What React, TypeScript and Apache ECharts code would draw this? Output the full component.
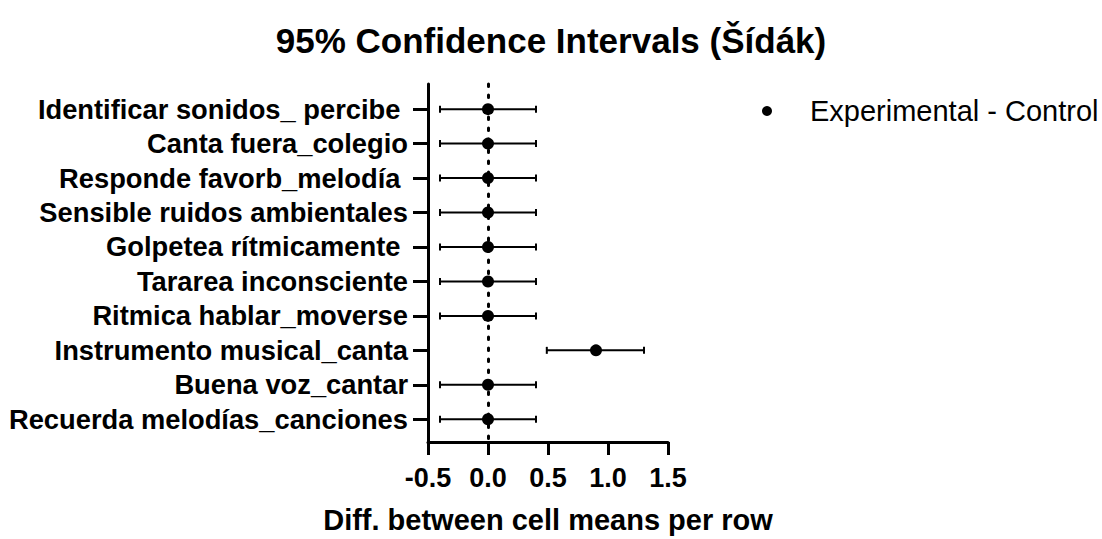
import React, { useEffect, useRef } from "react";
import * as echarts from "echarts";

const categories = [
  "Identificar sonidos_ percibe ",
  "Canta fuera_colegio",
  "Responde favorb_melodía ",
  "Sensible ruidos ambientales",
  "Golpetea rítmicamente ",
  "Tararea inconsciente",
  "Ritmica hablar_moverse",
  "Instrumento musical_canta",
  "Buena voz_cantar",
  "Recuerda melodías_canciones",
];
const diffs = [0, 0, 0, 0, 0, 0, 0, 0.9, 0, 0];
const lower = [-0.4, -0.4, -0.4, -0.4, -0.4, -0.4, -0.4, 0.49, -0.4, -0.4];
const upper = [0.4, 0.4, 0.4, 0.4, 0.4, 0.4, 0.4, 1.3, 0.4, 0.4];
const xTicks = [-0.5, 0, 0.5, 1.0, 1.5];
const seriesName = "Experimental - Control";
const titleText = "95% Confidence Intervals (Šídák)";
const xAxisName = "Diff. between cell means per row";

const FONT = "'Liberation Sans', Arial, Helvetica, sans-serif";

export default function App() {
  const ref = useRef<HTMLDivElement>(null);
  useEffect(() => {
    if (!ref.current) return;
    const chart = echarts.init(ref.current, undefined, { renderer: "svg" });
    const rowIdx = categories.map((_, i) => i);
    const barData = rowIdx.map((i) => [lower[i], upper[i], i]);
    const pointData = rowIdx.map((i) => [diffs[i], i]);
    chart.setOption({
      animation: false,
      backgroundColor: "#ffffff",
      textStyle: { fontFamily: FONT },
      title: {
        text: titleText,
        left: "center",
        top: 18,
        textStyle: { fontFamily: FONT, fontSize: 35, fontWeight: "bold", color: "#000" },
      },
      legend: {
        data: [{ name: seriesName, icon: "circle" }],
        left: 762,
        top: 96.5,
        padding: 0,
        itemWidth: 10,
        itemHeight: 10,
        itemStyle: { color: "#000", opacity: 1 },
        textStyle: { fontFamily: FONT, fontSize: 29, color: "#000", padding: [0, 0, 0, 33] },
      },
      grid: { left: 428, right: 434, top: 84, bottom: 95.5, containLabel: false },
      xAxis: {
        type: "value",
        min: -0.5,
        max: 1.5,
        interval: 0.5,
        name: xAxisName,
        nameLocation: "middle",
        nameGap: 63,
        nameTextStyle: { fontFamily: FONT, fontSize: 29, fontWeight: "bold", color: "#000" },
        axisLine: { show: true, onZero: false, lineStyle: { color: "#000", width: 3 } },
        axisTick: { show: true, inside: false, length: 13, lineStyle: { color: "#000", width: 3 } },
        axisLabel: {
          margin: 22,
          fontFamily: FONT,
          fontSize: 27,
          fontWeight: "bold",
          color: "#000",
          customValues: xTicks,
          formatter: (v: number) => v.toFixed(1),
        },
        splitLine: { show: false },
      },
      yAxis: {
        type: "value",
        inverse: true,
        min: -0.73,
        max: 9.66,
        axisLine: { show: true, onZero: false, lineStyle: { color: "#000", width: 3 } },
        axisTick: { show: true, length: 15, lineStyle: { color: "#000", width: 3 }, customValues: rowIdx },
        axisLabel: {
          margin: 20,
          fontFamily: FONT,
          fontSize: 27.3,
          fontWeight: "bold",
          color: "#000",
          customValues: rowIdx,
          formatter: (v: number) => categories[Math.round(v)] ?? "",
        },
        splitLine: { show: false },
      },
      series: [
        {
          type: "custom",
          name: "ci",
          data: barData,
          encode: { x: [0, 1], y: 2 },
          z: 3,
          renderItem: (params: any, api: any) => {
            const lo = api.value(0);
            const hi = api.value(1);
            const row = api.value(2);
            const p1 = api.coord([lo, row]);
            const p2 = api.coord([hi, row]);
            const cap = 3.5;
            const style = { stroke: "#000", lineWidth: 2 };
            return {
              type: "group",
              children: [
                { type: "line", shape: { x1: p1[0], y1: p1[1], x2: p2[0], y2: p2[1] }, style },
                { type: "line", shape: { x1: p1[0], y1: p1[1] - cap, x2: p1[0], y2: p1[1] + cap }, style },
                { type: "line", shape: { x1: p2[0], y1: p2[1] - cap, x2: p2[0], y2: p2[1] + cap }, style },
              ],
            };
          },
          markLine: {
            silent: true,
            symbol: ["none", "none"],
            label: { show: false },
            lineStyle: { color: "#000", width: 3, type: [2.5, 8.5], cap: "round" },
            data: [{ xAxis: 0 }],
          },
        },
        {
          type: "scatter",
          name: seriesName,
          data: pointData,
          symbol: "circle",
          symbolSize: 12,
          itemStyle: { color: "#000", opacity: 1 },
          z: 4,
        },
      ],
    });
    return () => chart.dispose();
  }, []);
  return (
    <div
      ref={ref}
      style={{ position: "fixed", left: 0, top: 0, width: 1102, height: 539, background: "#fff" }}
    />
  );
}
